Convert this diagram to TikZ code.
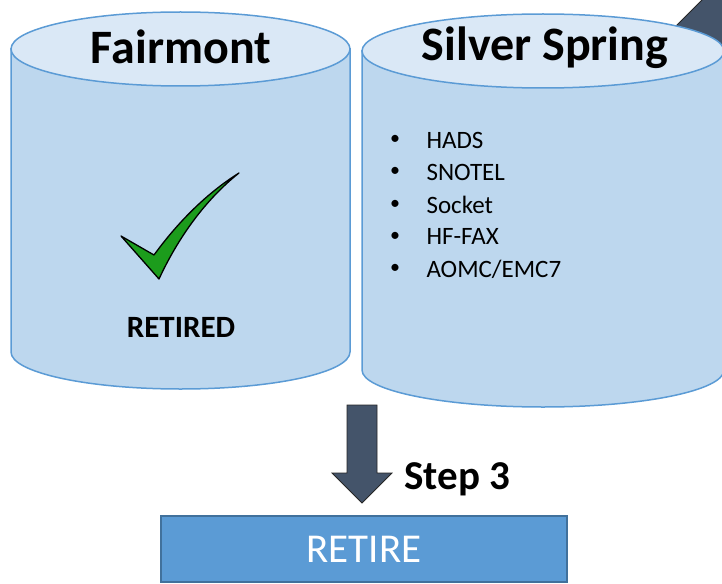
\documentclass[tikz,border=0pt]{standalone}
\usepackage{fontspec}
\setmainfont{Carlito}
\usetikzlibrary{positioning}
\definecolor{canbody}{HTML}{BDD7EE}
\definecolor{cantop}{HTML}{DAE8F6}
\definecolor{canline}{HTML}{5B9BD5}
\definecolor{slate}{HTML}{44546A}
\definecolor{boxfill}{HTML}{5B9BD5}
\definecolor{boxline}{HTML}{41719C}
\definecolor{tick}{RGB}{28,156,28}
\newcommand{\can}[5]{% center x, top y, bottom y, x radius, y radius
  \draw[canstyle,fill=canbody] (#1-#4,#2) -- (#1-#4,#3)
    arc[start angle=180,end angle=0,x radius=#4,y radius=#5] -- (#1+#4,#2) -- cycle;
  \draw[canstyle,fill=cantop] (#1,#2) ellipse[x radius=#4,y radius=#5];
}
\begin{document}
\begin{tikzpicture}[x=1pt,y=-1pt,
    canstyle/.style={draw=canline,line width=1.5pt},
    title/.style={font=\fontsize{48}{56}\selectfont\bfseries},
    item/.style={font=\fontsize{25}{30}\selectfont,anchor=west}]
  \clip (0,0) rectangle (722,583);
  % arrow coming in from the top right, behind the can
  \fill[slate,draw=black!85,line width=0.8pt] (664,38) -- (722,-20) -- (764,22) -- (706,80) -- cycle;
  % the two cans
  \can{180.5}{49}{352}{169.5}{37}
  \can{543}{51}{370}{181}{37}
  \node[title] (fm) at (181,47) {Fairmont};
  \node[title] (ss) at (545,48) {Silver Spring};
  % retired check
  \begin{scope}
    \draw[fill=tick,draw=black,line width=1.3pt,line join=round]
      (121,236) -- (159,279) .. controls (178,238) and (205,200) .. (239,173)
      .. controls (207,193) and (178,222) .. (154,255) -- cycle;
    \node[font=\fontsize{31}{36}\selectfont\bfseries] (done) at (181,327) {RETIRED};
  \end{scope}
  % feed list
  \begin{scope}
    \foreach \name [count=\i] in {HADS,SNOTEL,Socket,HF-FAX,AOMC/EMC7} {
      \node[item] (it\i) at (423,108+32.2*\i) {\name};
      \node[font=\fontsize{20}{24}\selectfont] at (395,108+32.2*\i) {\textbullet};
    }
  \end{scope}
  % step 3
  \draw[fill=slate,draw=black!85,line width=0.8pt]
    (347,405) -- (377,405) -- (377,473) -- (392,473) -- (362,503) -- (332,473) -- (347,473) -- cycle;
  \node[font=\fontsize{41}{48}\selectfont\bfseries,anchor=west] (step) at (401,479) {Step 3};
  \node[fill=boxfill,draw=boxline,line width=2pt,minimum width=406pt,minimum height=66pt,
    text=white,font=\fontsize{41}{48}\selectfont] (ret) at (364,549) {RETIRE};
\end{tikzpicture}
\end{document}
